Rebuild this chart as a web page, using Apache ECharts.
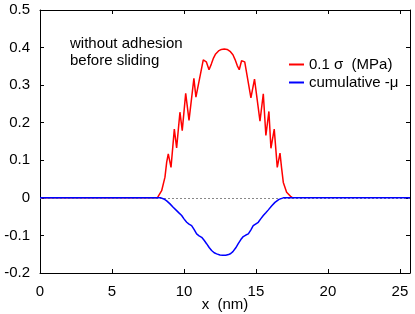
<!DOCTYPE html>
<html>
<head>
<meta charset="utf-8">
<script src="https://cdn.jsdelivr.net/npm/echarts@6/dist/echarts.min.js"></script>
<style>
html,body{margin:0;padding:0;background:#fff;}
#chart{width:415px;height:314px;}
</style>
</head>
<body>
<div id="chart"></div>
<script>
// ---- data ----
const redName = '0.1 σ  (MPa)';
const blueName = 'cumulative -μ';
const xName = 'x  (nm)';
const annotation = ['without adhesion', 'before sliding'];

const redX = [0, 8.15, 8.45, 8.68, 8.8, 8.91, 9.1, 9.33, 9.49, 9.72, 9.88, 10.12, 10.35, 10.69, 10.83, 11.34, 11.45, 11.55, 11.74, 11.9, 12.05, 12.2, 12.4, 12.6, 12.8, 13.0, 13.2, 13.4, 13.55, 13.7, 13.84, 14.0, 14.1, 14.22, 14.65, 14.9, 15.28, 15.51, 15.69, 15.9, 16.04, 16.27, 16.48, 16.67, 16.78, 16.9, 17.13, 17.43, 17.55];
const redY = [0, 0, 0.019, 0.055, 0.095, 0.117, 0.081, 0.183, 0.133, 0.228, 0.179, 0.278, 0.206, 0.318, 0.268, 0.367, 0.371, 0.362, 0.341, 0.356, 0.372, 0.383, 0.391, 0.395, 0.396, 0.395, 0.39, 0.381, 0.368, 0.352, 0.341, 0.365, 0.37, 0.362, 0.266, 0.316, 0.204, 0.277, 0.166, 0.23, 0.132, 0.183, 0.081, 0.119, 0.08, 0.041, 0.015, 0.003, 0];

const blueX = [0, 8.0, 8.4, 8.6, 8.8, 9.03, 9.25, 9.49, 9.65, 9.84, 10.0, 10.19, 10.35, 10.53, 10.7, 10.88, 11.05, 11.23, 11.4, 11.57, 11.75, 11.92, 12.1, 12.27, 12.5, 12.7, 12.9, 13.1, 13.25, 13.4, 13.6, 13.77, 13.95, 14.12, 14.3, 14.47, 14.65, 14.81, 15.0, 15.16, 15.33, 15.51, 15.7, 15.86, 16.1, 16.32, 16.6, 16.9, 17.3, 25.7];
const blueY = [0, 0, 0, -0.003, -0.008, -0.016, -0.025, -0.034, -0.04, -0.047, -0.056, -0.065, -0.07, -0.074, -0.084, -0.096, -0.101, -0.105, -0.113, -0.122, -0.132, -0.14, -0.146, -0.149, -0.152, -0.153, -0.153, -0.151, -0.148, -0.143, -0.133, -0.122, -0.111, -0.103, -0.099, -0.096, -0.085, -0.074, -0.069, -0.065, -0.056, -0.047, -0.039, -0.032, -0.021, -0.012, -0.004, 0, 0, 0];

const xTickLabels = ['0', '5', '10', '15', '20', '25'];
const yTickLabels = ['-0.2', '-0.1', '0', '0.1', '0.2', '0.3', '0.4', '0.5'];

// ---- chart ----
const FONT = '"Liberation Sans", Arial, Helvetica, sans-serif';
const FS = 15;
const xMin = 0, xMax = 25.7, xStep = 5;
const yMin = -0.2, yMax = 0.5, yStep = 0.1;

function xLabel(v) {
  const i = Math.round((v - xMin) / xStep);
  if (Math.abs(v - (xMin + i * xStep)) > 1e-6) return '';
  return xTickLabels[i] !== undefined ? xTickLabels[i] : '';
}
function yLabel(v) {
  const i = Math.round((v - yMin) / yStep);
  return yTickLabels[i] !== undefined ? yTickLabels[i] : '';
}

const axisLineStyle = { color: '#000', width: 1 };
const tickStyle = { inside: true, length: 4, lineStyle: { color: '#000', width: 1 } };

const chart = echarts.init(document.getElementById('chart'), null, { renderer: 'canvas' });
chart.setOption({
  animation: false,
  backgroundColor: '#fff',
  textStyle: { fontFamily: FONT },
  grid: { left: 40, right: 5, top: 10, bottom: 41, containLabel: false, outerBoundsMode: 'none' },
  legend: {
    orient: 'vertical',
    left: 284,
    top: 52,
    itemWidth: 15,
    itemHeight: 2,
    itemGap: 3,
    icon: 'rect',
    data: [redName, blueName],
    textStyle: { fontSize: FS, color: '#000', fontFamily: FONT }
  },
  graphic: [{
    type: 'text',
    left: 70,
    top: 35,
    style: { text: annotation.join('\n'), fontSize: FS, lineHeight: 17, fill: '#000', fontFamily: FONT }
  }],
  xAxis: [{
    type: 'value', min: xMin, max: xMax, interval: xStep, position: 'bottom',
    axisLine: { onZero: false, lineStyle: axisLineStyle },
    axisTick: tickStyle,
    splitLine: { show: false },
    axisLabel: { color: '#000', fontSize: FS, margin: 11, fontFamily: FONT, formatter: xLabel, showMaxLabel: false },
    name: xName, nameLocation: 'middle', nameGap: 32, nameMoveOverlap: false,
    nameTextStyle: { color: '#000', fontSize: FS, fontFamily: FONT, verticalAlign: 'middle' }
  }, {
    type: 'value', min: xMin, max: xMax, interval: xStep, position: 'top',
    axisLine: { onZero: false, lineStyle: axisLineStyle },
    axisTick: tickStyle,
    splitLine: { show: false },
    axisLabel: { show: false }
  }],
  yAxis: [{
    type: 'value', min: yMin, max: yMax, interval: yStep, position: 'left',
    axisLine: { onZero: false, lineStyle: axisLineStyle },
    axisTick: tickStyle,
    splitLine: { show: false },
    axisLabel: { color: '#000', fontSize: FS, margin: 10, fontFamily: FONT, formatter: yLabel }
  }, {
    type: 'value', min: yMin, max: yMax, interval: yStep, position: 'right',
    axisLine: { onZero: false, lineStyle: axisLineStyle },
    axisTick: tickStyle,
    splitLine: { show: false },
    axisLabel: { show: false }
  }],
  series: [{
    name: redName,
    type: 'line',
    xAxisIndex: 0, yAxisIndex: 0,
    data: redX.map((x, i) => [x, redY[i]]),
    showSymbol: false,
    symbol: 'none',
    color: '#ff0000',
    lineStyle: { color: '#ff0000', width: 1.5 },
    z: 2,
    markLine: {
      silent: true, symbol: 'none', label: { show: false },
      lineStyle: { color: '#888', type: [2, 2], width: 1 },
      data: [{ yAxis: 0 }]
    }
  }, {
    name: blueName,
    type: 'line',
    xAxisIndex: 0, yAxisIndex: 0,
    data: blueX.map((x, i) => [x, blueY[i]]),
    showSymbol: false,
    symbol: 'none',
    color: '#0000ff',
    lineStyle: { color: '#0000ff', width: 1.5 },
    z: 10
  }]
});
</script>
</body>
</html>
